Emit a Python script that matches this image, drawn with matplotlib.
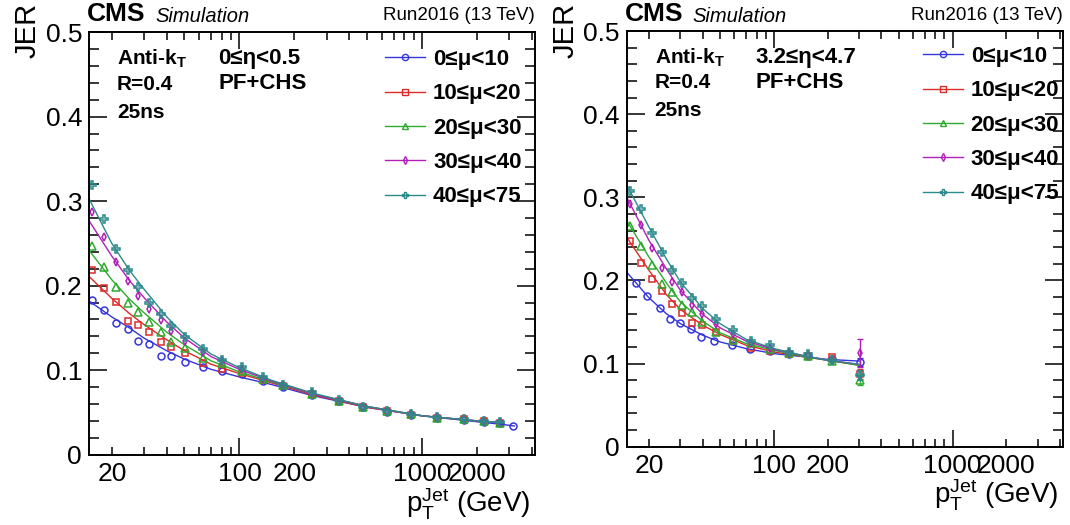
import matplotlib
matplotlib.use("Agg")
import matplotlib.pyplot as plt
from matplotlib.ticker import FixedLocator, FixedFormatter
from matplotlib.lines import Line2D

plt.rcParams['font.family'] = ['Liberation Sans', 'DejaVu Sans']
plt.rcParams['mathtext.fontset'] = 'custom'
plt.rcParams['mathtext.rm'] = 'Liberation Sans'
plt.rcParams['mathtext.it'] = 'Liberation Sans'

# ---- data ----
mu_labels = ['0≤μ<10', '10≤μ<20', '20≤μ<30', '30≤μ<40', '40≤μ<75']

# left panel: 0 <= eta < 0.5
pt_left = [15.6, 18.1, 21.1, 24.6, 27.9, 32, 37.2, 42.2, 50.4, 63.3, 80.3, 103,
           134, 173, 248, 350, 476, 645, 873, 1211, 1702, 2190, 2658, 3131]
left_mu0 = [0.183, 0.171, 0.156, 0.149, 0.134, 0.131, 0.117, 0.117, 0.110, 0.104, 0.099, 0.095,
            0.087, 0.080, 0.071, 0.063, 0.057, 0.051, 0.047, 0.044, 0.041, 0.039, 0.038, 0.034]
left_mu10 = [0.218, 0.197, 0.181, 0.158, 0.153, 0.145, 0.133, 0.127, 0.120, 0.108, 0.101, 0.097,
             0.088, 0.081, 0.072, 0.063, 0.057, 0.052, 0.047, 0.044, 0.042, 0.040, 0.038]
left_mu20 = [0.247, 0.222, 0.198, 0.179, 0.169, 0.157, 0.145, 0.133, 0.126, 0.114, 0.108, 0.099,
             0.089, 0.082, 0.072, 0.064, 0.057, 0.052, 0.048, 0.044, 0.042, 0.040, 0.038]
left_mu30 = [0.287, 0.258, 0.228, 0.205, 0.188, 0.173, 0.159, 0.146, 0.135, 0.121, 0.111, 0.101,
             0.090, 0.082, 0.073, 0.064, 0.057, 0.052, 0.048, 0.045, 0.042, 0.040, 0.039]
left_mu40 = [0.319, 0.279, 0.244, 0.218, 0.199, 0.180, 0.167, 0.152, 0.139, 0.125, 0.112, 0.104,
             0.092, 0.083, 0.074, 0.0645, 0.057, 0.052, 0.048, 0.045, 0.042, 0.040, 0.039]

# fitted curves (read at a few pT values)
fit_pt_left = [15, 20, 25, 30, 40, 50, 70, 100, 150, 250, 500, 1000, 2000, 2700]
fit_left_mu0 = [0.182, 0.163, 0.150, 0.138, 0.123, 0.113, 0.101, 0.092, 0.083, 0.070, 0.056, 0.046, 0.039, 0.036]
fit_left_mu10 = [0.211, 0.185, 0.167, 0.154, 0.136, 0.123, 0.107, 0.096, 0.085, 0.071, 0.056, 0.046, 0.040, 0.038]
fit_left_mu20 = [0.242, 0.207, 0.184, 0.168, 0.145, 0.130, 0.111, 0.098, 0.086, 0.072, 0.057, 0.046, 0.040, 0.038]
fit_left_mu30 = [0.277, 0.235, 0.206, 0.186, 0.157, 0.138, 0.116, 0.101, 0.087, 0.072, 0.057, 0.046, 0.040, 0.038]
fit_left_mu40 = [0.303, 0.250, 0.218, 0.196, 0.163, 0.142, 0.119, 0.103, 0.088, 0.073, 0.057, 0.046, 0.040, 0.038]
fit_pt_left_mu0_end = [2700, 3200]
fit_left_mu0_end = [0.036, 0.034]

# right panel: 3.2 <= eta < 4.7
pt_right = [15.7, 18.0, 20.8, 23.7, 26.9, 30.6, 34.8, 39.6, 47.4, 59.0, 74.4, 95, 121, 155, 211, 302]
pt_right_mu0 = [16.9, 19.5, 22.9, 26.2, 29.8, 34.3, 38.9, 46.4, 58, 73.5, 95, 121, 155, 211, 302]
right_mu0 = [0.197, 0.181, 0.167, 0.154, 0.149, 0.142, 0.132, 0.127, 0.122, 0.117, 0.115, 0.112, 0.109, 0.105, 0.102]
right_mu10 = [0.248, 0.221, 0.202, 0.187, 0.172, 0.161, 0.149, 0.146, 0.138, 0.127, 0.119, 0.115, 0.112, 0.109, 0.108, 0.088]
right_mu20 = [0.265, 0.241, 0.219, 0.196, 0.186, 0.171, 0.162, 0.150, 0.138, 0.128, 0.125, 0.117, 0.113, 0.109, 0.103, 0.080]
right_mu30 = [0.292, 0.267, 0.239, 0.215, 0.198, 0.186, 0.171, 0.160, 0.147, 0.136, 0.125, 0.119, 0.113, 0.110, 0.104, 0.113]
right_mu40 = [0.307, 0.286, 0.257, 0.234, 0.213, 0.197, 0.179, 0.169, 0.153, 0.140, 0.127, 0.122, 0.114, 0.111, 0.104, 0.086]
err_right_last = [0.005, 0.006, 0.006, 0.017, 0.006]

fit_pt_right = [15, 20, 25, 30, 40, 50, 70, 100, 150, 200, 300]
fit_right_mu0 = [0.210, 0.179, 0.160, 0.148, 0.134, 0.126, 0.118, 0.112, 0.108, 0.105, 0.103]
fit_right_mu10 = [0.252, 0.212, 0.183, 0.165, 0.146, 0.135, 0.122, 0.114, 0.108, 0.104, 0.098]
fit_right_mu20 = [0.272, 0.228, 0.197, 0.174, 0.151, 0.137, 0.124, 0.116, 0.108, 0.104, 0.098]
fit_right_mu30 = [0.300, 0.248, 0.214, 0.188, 0.159, 0.143, 0.127, 0.117, 0.109, 0.104, 0.099]
fit_right_mu40 = [0.315, 0.264, 0.226, 0.198, 0.166, 0.148, 0.129, 0.118, 0.109, 0.104, 0.099]

colors = ['#3535dd', '#dd2a2a', '#2eaa2e', '#b020b8', '#2c8a8a']
markers = ['o', 's', '^', 'd', 'P']
msizes = [5, 5, 5.5, 4.2, 5.5]

W, H = 1070, 525
fig = plt.figure(figsize=(W / 100, H / 100), dpi=100)


def fx(px):
    return px / W


def fy(py):
    return 1 - py / H


ax_l = fig.add_axes([fx(89), fy(454.7), fx(535 - 89), (454.7 - 32.2) / H])
ax_r = fig.add_axes([fx(626.7), fy(446.7), fx(1063 - 626.7), (446.7 - 31) / H])


def style_axes(ax):
    ax.set_xscale('log')
    ax.set_xlim(15, 4150)
    ax.set_ylim(0, 0.5)
    ax.xaxis.set_major_locator(FixedLocator([100, 1000]))
    ax.xaxis.set_major_formatter(FixedFormatter(['100', '1000']))
    minors = [20, 30, 40, 50, 60, 70, 80, 90, 200, 300, 400, 500, 600, 700, 800, 900, 2000, 3000, 4000]
    ax.xaxis.set_minor_locator(FixedLocator(minors))
    ax.xaxis.set_minor_formatter(FixedFormatter(
        ['20' if m == 20 else '200' if m == 200 else '2000' if m == 2000 else '' for m in minors]))
    ax.set_yticks([0, 0.1, 0.2, 0.3, 0.4, 0.5])
    ax.set_yticklabels(['0', '0.1', '0.2', '0.3', '0.4', '0.5'])
    ax.set_yticks([i * 0.02 for i in range(26)], minor=True)
    ax.tick_params(which='both', direction='in', top=True, right=True, width=1.1,
                   labelsize=19, pad=5)
    ax.tick_params(axis='x', which='major', length=12)
    ax.tick_params(axis='x', which='minor', length=6)
    ax.tick_params(axis='y', which='major', length=13)
    ax.tick_params(axis='y', which='minor', length=7)
    for s in ax.spines.values():
        s.set_linewidth(1.4)
    ax.set_xlabel(r'$\mathregular{p_{T}^{Jet}}$ (GeV)', fontsize=20, loc='right', labelpad=0)
    ax.xaxis.set_label_coords(1.0 - 5 / 446, -0.075)


# left panel
left_data = [left_mu0, left_mu10, left_mu20, left_mu30, left_mu40]
left_fits = [fit_left_mu0, fit_left_mu10, fit_left_mu20, fit_left_mu30, fit_left_mu40]
for i in range(5):
    ax_l.plot(fit_pt_left, left_fits[i], color=colors[i], lw=1.0)
    ax_l.plot(pt_left[:len(left_data[i])], left_data[i], ls='none', marker=markers[i],
              ms=msizes[i], mfc='none', mec=colors[i], mew=1.1)
ax_l.plot(fit_pt_left_mu0_end, fit_left_mu0_end, color=colors[0], lw=1.0)

# right panel
right_data = [right_mu0, right_mu10, right_mu20, right_mu30, right_mu40]
right_fits = [fit_right_mu0, fit_right_mu10, fit_right_mu20, fit_right_mu30, fit_right_mu40]
for i in range(5):
    xs = pt_right_mu0 if i == 0 else pt_right
    ax_r.plot(fit_pt_right, right_fits[i], color=colors[i], lw=1.0)
    ax_r.plot(xs, right_data[i], ls='none', marker=markers[i],
              ms=msizes[i], mfc='none', mec=colors[i], mew=1.1)
    ax_r.errorbar([xs[-1]], [right_data[i][-1]], yerr=[err_right_last[i]], fmt='none',
                  ecolor=colors[i], elinewidth=1.0, capsize=2)

for ax in (ax_l, ax_r):
    style_axes(ax)

# labels and legends
panels = [(ax_l, 89, 535, 32.2, 49, '0≤η<0.5'), (ax_r, 626.7, 1063, 31, 46, '3.2≤η<4.7')]
for ax, x0, x1, top, leg_top, eta in panels:
    fig.text(fx(x0 - 61), fy(30), 'JER', rotation=90, fontsize=21, ha='center', va='center')
    fig.text(fx(x0 - 2), fy(14), 'CMS', fontsize=19, fontweight='bold', va='center', ha='left')
    fig.text(fx(x0 + 66), fy(16), 'Simulation', fontsize=14.5, fontstyle='italic', va='center', ha='left')
    fig.text(fx(x1), fy(15), 'Run2016 (13 TeV)', fontsize=13.5, va='center', ha='right')
    fig.text(fx(x0 + 28), fy(top + 27), r'Anti-k$_\mathregular{T}$', fontsize=15, fontweight='bold', va='center')
    fig.text(fx(x0 + 28), fy(top + 52), 'R=0.4', fontsize=15, fontweight='bold', va='center')
    fig.text(fx(x0 + 28), fy(top + 80), '25ns', fontsize=15, fontweight='bold', va='center')
    fig.text(fx(x0 + 129), fy(top + 26), eta, fontsize=16, fontweight='bold', va='center')
    fig.text(fx(x0 + 129), fy(top + 51), 'PF+CHS', fontsize=16, fontweight='bold', va='center')

    handles = [Line2D([], [], color=colors[i], lw=1.0, marker=markers[i], ms=msizes[i] - 0.5,
                      mfc='none', mec=colors[i], mew=1.0) for i in range(5)]
    ax.legend(handles, mu_labels, loc='upper left', bbox_to_anchor=(fx(x0 + 296), fy(leg_top)),
              bbox_transform=fig.transFigure, frameon=False,
              prop={'size': 16, 'weight': 'bold'}, labelspacing=0.6,
              handlelength=1.8, handletextpad=0.36, borderpad=0, borderaxespad=0)

fig.savefig('out.png', dpi=100)
